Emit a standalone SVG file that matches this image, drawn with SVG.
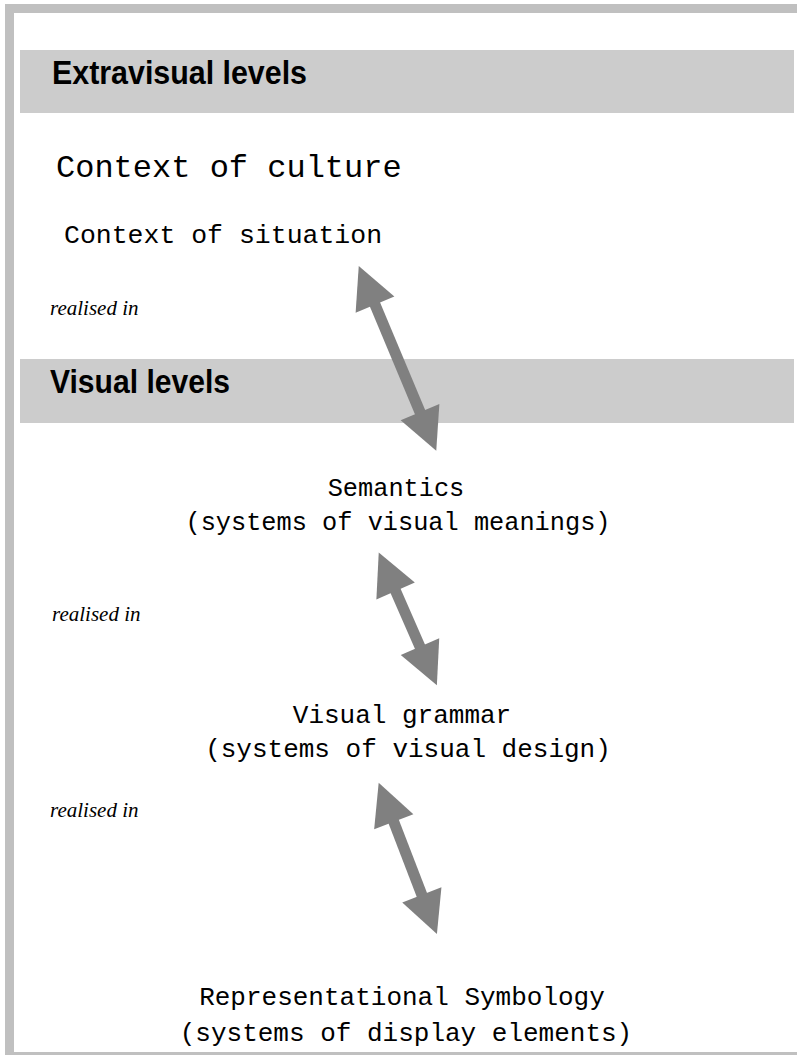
<svg xmlns="http://www.w3.org/2000/svg" width="797" height="1055" viewBox="0 0 797 1055">
<defs>
<style>
.frame{fill:#ffffff;stroke:#c0c0c0;stroke-width:9}
.band{fill:#cccccc}
.head{font-family:"Liberation Sans",Arial,sans-serif;font-weight:bold;font-size:33px;fill:#000}
.mono{font-family:"Liberation Mono","Courier New",monospace;fill:#000}
.lbl{font-family:"Liberation Serif","Times New Roman",serif;font-style:italic;font-size:21px;fill:#000}
.conn{stroke:#808080;stroke-width:11;fill:none;marker-start:url(#ah);marker-end:url(#ah)}
</style>
<marker id="ah" viewBox="0 0 42 42" markerWidth="42" markerHeight="42" markerUnits="userSpaceOnUse" refX="1" refY="21" orient="auto-start-reverse" overflow="visible">
<path d="M0,0 L42,21 L0,42 Z" fill="#808080"/>
</marker>
</defs>
<rect class="frame" x="9.5" y="8.5" width="800" height="1048"/>
<g id="band-extravisual">
<rect class="band" x="20" y="50" width="774" height="63"/>
<text class="head" x="52" y="84" textLength="255" lengthAdjust="spacingAndGlyphs">Extravisual levels</text>
</g>
<g id="band-visual">
<rect class="band" x="20" y="359" width="774" height="64"/>
<text class="head" x="50" y="393" textLength="180" lengthAdjust="spacingAndGlyphs">Visual levels</text>
</g>
<g id="node-culture">
<text class="mono" x="56" y="177" font-size="32">Context of culture</text>
</g>
<g id="node-situation">
<text class="mono" x="64" y="243" font-size="26.5">Context of situation</text>
</g>
<g id="node-semantics">
<text class="mono" x="396" y="496" font-size="25.3" text-anchor="middle">Semantics</text>
<text class="mono" x="398" y="530" font-size="25.3" text-anchor="middle">(systems of visual meanings)</text>
</g>
<g id="node-grammar">
<text class="mono" x="402" y="723" font-size="26" text-anchor="middle">Visual grammar</text>
<text class="mono" x="408" y="757" font-size="26" text-anchor="middle">(systems of visual design)</text>
</g>
<g id="node-symbology">
<text class="mono" x="402" y="1005" font-size="26" text-anchor="middle">Representational Symbology</text>
<text class="mono" x="406" y="1041" font-size="26" text-anchor="middle">(systems of display elements)</text>
</g>
<g id="labels">
<text class="lbl" x="50" y="315">realised in</text>
<text class="lbl" x="52" y="621">realised in</text>
<text class="lbl" x="50" y="817">realised in</text>
</g>
<g id="connectors">
<line class="conn" x1="374.6" y1="303.7" x2="420.4" y2="413"/>
<line class="conn" x1="395.2" y1="590.1" x2="420.4" y2="647.6"/>
<line class="conn" x1="393.4" y1="820.9" x2="422.2" y2="895.8"/>
</g>
</svg>
